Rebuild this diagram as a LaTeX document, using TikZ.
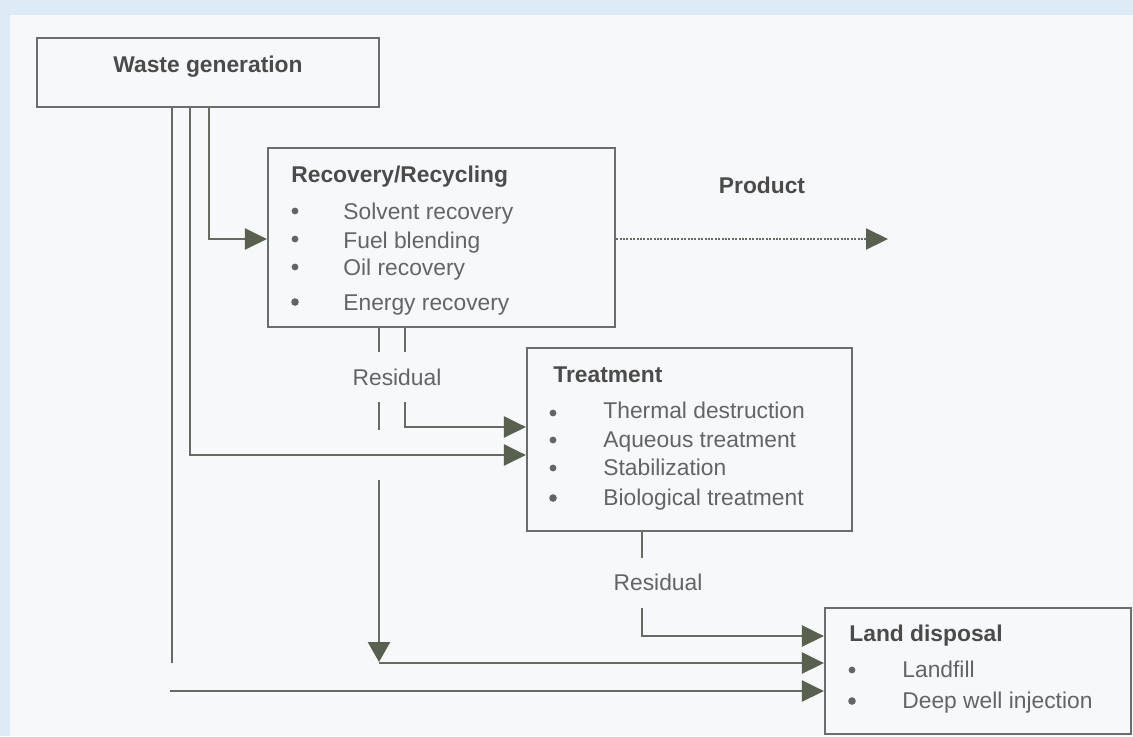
\documentclass[tikz,border=0pt]{standalone}
\usepackage{fontspec}
\setmainfont{Liberation Sans}
\usetikzlibrary{arrows.meta,fit}
\definecolor{bgblue}{RGB}{220,235,246}
\definecolor{panel}{RGB}{246,248,250}
\definecolor{lncol}{RGB}{102,106,98}
\definecolor{arcol}{RGB}{88,96,80}
\definecolor{titcol}{RGB}{75,75,75}
\definecolor{txtcol}{RGB}{100,100,100}
\definecolor{boxcol}{RGB}{108,108,108}
\begin{document}
\begin{tikzpicture}[x=0.5pt,y=-0.5pt,
  box/.style={draw=boxcol,line width=1.1pt,inner sep=0pt},
  ttl/.style={font=\fontsize{11.4pt}{13pt}\selectfont\bfseries,text=titcol,inner sep=0pt,anchor=base west},
  itm/.style={font=\fontsize{11.4pt}{13pt}\selectfont,text=txtcol,inner sep=0pt,anchor=base west},
  lbl/.style={font=\fontsize{11.4pt}{13pt}\selectfont,text=txtcol,inner sep=0pt,anchor=base},
  bul/.style={circle,fill=txtcol,inner sep=0pt,minimum size=3.4pt},
  ln/.style={draw=lncol,line width=1.25pt},
  arr/.style={-{Triangle[length=11pt,width=10.5pt,color=arcol]}},
  dotln/.style={draw=lncol,line width=1pt,dash pattern=on 1pt off 0.7pt}
]
\useasboundingbox (0,0) rectangle (1133,736);
\fill[bgblue] (0,0) rectangle (1133,736);
\fill[panel] (10,15) rectangle (1133,736);

% boxes
\node[box,fit={(37,38)(379,107)}] (wg) {};
\node[ttl,anchor=base] (wgt) at (208,72) {Waste generation};

\node[box,fit={(268,148)(615,327)}] (rec) {};
\node[ttl] (rect) at (291,182) {Recovery/Recycling};
\node[bul] (rb1) at (295,211) {};
\node[bul] (rb2) at (295,239) {};
\node[bul] (rb3) at (295,267) {};
\node[bul,minimum size=3.8pt] (rb4) at (295,302) {};
\node[itm] (ri1) at (343,219) {Solvent recovery};
\node[itm] (ri2) at (343,248) {Fuel blending};
\node[itm] (ri3) at (343,275) {Oil recovery};
\node[itm] (ri4) at (343,310) {Energy recovery};

\node[box,fit={(527,348)(852,531)}] (trt) {};
\node[ttl] (trtt) at (553,382) {Treatment};
\node[bul] (tb1) at (553,413) {};
\node[bul] (tb2) at (553,440) {};
\node[bul] (tb3) at (553,468) {};
\node[bul,minimum size=3.8pt] (tb4) at (553,498) {};
\node[itm] (ti1) at (603,418) {Thermal destruction};
\node[itm] (ti2) at (603,447) {Aqueous treatment};
\node[itm] (ti3) at (603,475) {Stabilization};
\node[itm] (ti4) at (603,505) {Biological treatment};

\node[box,fit={(825,608)(1131,734)}] (land) {};
\node[ttl] (landt) at (849,641) {Land disposal};
\node[bul] (lb1) at (852,670) {};
\node[bul,minimum size=3.8pt] (lb2) at (852,701) {};
\node[itm] (li1) at (902,677) {Landfill};
\node[itm] (li2) at (902,708) {Deep well injection};

\node[ttl,anchor=base] (prodt) at (762,193) {Product};
\node[lbl] (res1) at (397,385) {Residual};
\node[lbl] (res2) at (658,590) {Residual};

% helper coordinates
\coordinate (xa) at (172,0);
\coordinate (xb) at (190,0);
\coordinate (xc) at (209,0);
\coordinate (xd) at (379,0);
\coordinate (xe) at (405,0);
\coordinate (xf) at (642,0);
\coordinate (ya) at (0,239);
\coordinate (yb) at (0,455);
\coordinate (yc) at (0,427);
\coordinate (yd) at (0,636);
\coordinate (ye) at (0,663);
\coordinate (yf) at (0,691);
\coordinate (aend) at (172,663);
\coordinate (d1) at (379,352);
\coordinate (d2) at (379,402);
\coordinate (d3) at (379,430);
\coordinate (d4) at (379,480);
\coordinate (d5) at (379,662);
\coordinate (e1) at (405,352);
\coordinate (e2) at (405,402);
\coordinate (f1) at (642,558);
\coordinate (f2) at (642,608);
\coordinate (g1) at (170,691);
\coordinate (prod) at (888,239);

% connectors
\draw[ln] (wg.south -| xa) -- (aend);
\draw[ln,arr] (wg.south -| xc) |- (rec.west |- ya);
\draw[ln,arr] (wg.south -| xb) |- (trt.west |- yb);
\draw[ln] (rec.south -| xd) -- (d1);
\draw[ln] (d2) -- (d3);
\draw[ln,-{Triangle[length=10pt,width=11pt,color=arcol]}] (d4) -- (d5);
\draw[ln,arr] (d5 |- ye) -- (land.west |- ye);
\draw[ln] (rec.south -| xe) -- (e1);
\draw[ln,arr] (e2) |- (trt.west |- yc);
\draw[ln] (trt.south -| xf) -- (f1);
\draw[ln,arr] (f2) |- (land.west |- yd);
\draw[ln,arr] (g1) -- (land.west |- yf);
\draw[dotln,arr] (rec.east |- ya) -- (prod);
\end{tikzpicture}
\end{document}
